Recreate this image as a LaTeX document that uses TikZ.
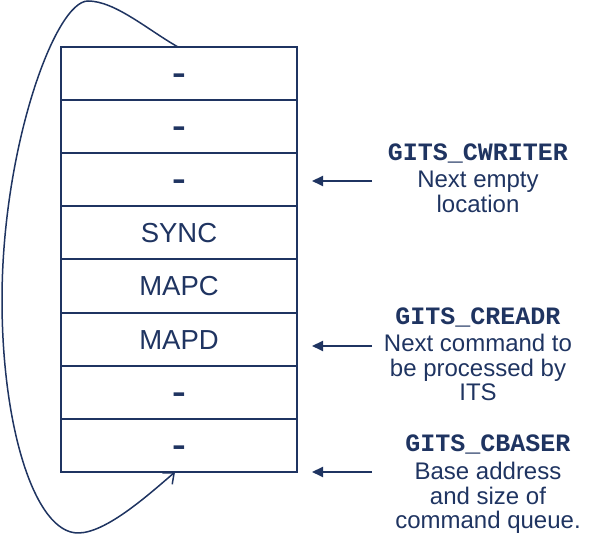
\documentclass[tikz,border=0pt]{standalone}
\usepackage{fontspec}
\setmainfont{Liberation Sans}
\setmonofont{Liberation Mono}
\usepackage{xcolor}
\usepackage{graphicx}
\usepackage{tikz}
\usetikzlibrary{positioning,arrows.meta,calc}
\definecolor{navy}{HTML}{1F3461}
\tikzstyle{cell}=[rectangle, draw=navy, line width=2pt, text=navy,
  minimum width=236pt, minimum height=53.125pt, inner sep=0pt, outer sep=0pt,
  text height=19.7pt, text depth=0pt,
  font=\fontsize{27.5}{30}\selectfont]
\tikzstyle{regname}=[text=navy, inner sep=0pt, text depth=0pt,
  font=\fontsize{25}{28}\selectfont\ttfamily\bfseries]
\tikzstyle{regdesc}=[text=navy, inner sep=0pt, align=center,
  font=\fontsize{24}{24.5}\selectfont]
\tikzstyle{pointer} = [draw=navy, line width=2pt, shorten >=15pt,
  -{Triangle[length=11pt,width=10pt]}]
\tikzstyle{wrap} = [draw=navy, line width=1.5pt,
  -{Straight Barb[length=9pt,width=15pt]}]
\newcommand{\emptyslot}{\scalebox{1.5}[1.1]{\bfseries -}}

\begin{document}
\begin{tikzpicture}[x=1pt, y=1pt, node distance=0pt]
    \useasboundingbox (0,0) rectangle (605,548);
    % the command queue
    \node (c1) [cell] at (179,474.44) {\emptyslot};
    \node (c2) [cell, below=of c1] {\emptyslot};
    \node (c3) [cell, below=of c2] {\emptyslot};
    \node (c4) [cell, below=of c3] {SYNC};
    \node (c5) [cell, below=of c4] {MAPC};
    \node (c6) [cell, below=of c5] {MAPD};
    \node (c7) [cell, below=of c6] {\emptyslot};
    \node (c8) [cell, below=of c7] {\emptyslot};
    % registers
    \node (wname) [regname, anchor=base] at (478,387) {GITS\_CWRITER};
    \node (wdesc) [regdesc, below=10pt of wname] {Next empty\\location};
    \node (rname) [regname, anchor=base] at (478,223) {GITS\_CREADR};
    \node (rdesc) [regdesc, below=9pt of rname] {Next command to\\be processed by\\ITS};
    \node (bname) [regname, anchor=base] at (488,96) {GITS\_CBASER};
    \node (bdesc) [regdesc, below=10pt of bname] {Base address\\and size of\\command queue.};
    \coordinate (wfrom) at (372,367);
    \coordinate (rfrom) at (372,202);
    \coordinate (bfrom) at (372,76);
    \draw[pointer] (wfrom) -- (wfrom -| c3.east);
    \draw[pointer] (rfrom) -- (rfrom -| c6.east);
    \draw[pointer] (bfrom) -- (bfrom -| c8.east);
    % wrap around
    \coordinate (peak) at (88,547);
    \coordinate (leftmost) at (2,248);
    \coordinate (bottom) at (78,15);
    \draw[wrap] ([xshift=-1pt]c1.north) .. controls (148,518) and (115,547) .. (peak)
      .. controls (55,547) and (2,400) .. (leftmost)
      .. controls (2,120) and (35,15) .. (bottom)
      .. controls (105,15) and (145,50) .. ([xshift=-4pt]c8.south);
\end{tikzpicture}
\end{document}
